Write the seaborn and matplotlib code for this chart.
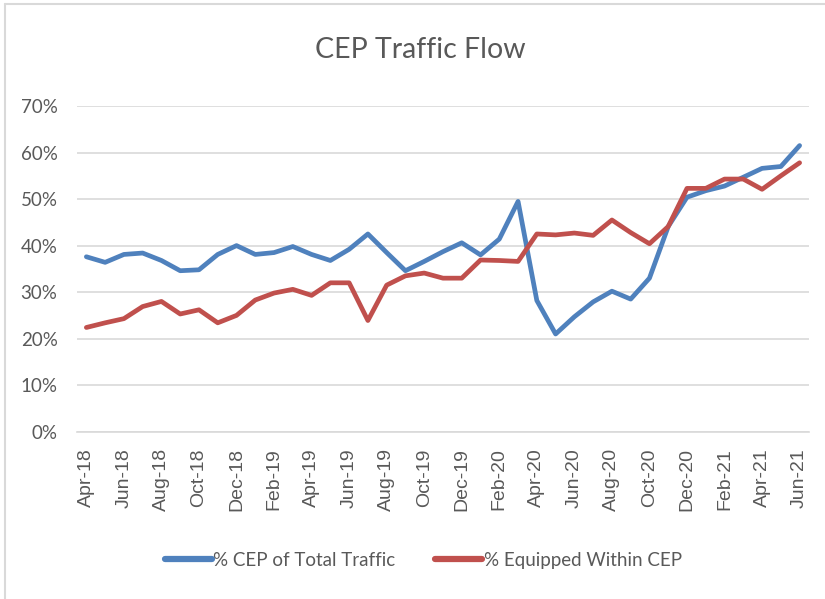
import pandas as pd
import numpy as np
import matplotlib
matplotlib.use("Agg")
import matplotlib.pyplot as plt
import seaborn as sns
from matplotlib.lines import Line2D
from matplotlib.ticker import PercentFormatter

# Datos (Apr-18 .. Jun-21, mensual)
months = pd.date_range("2018-04-01", "2021-06-01", freq="MS").strftime("%b-%y").tolist()

cep_total = [37.6, 36.4, 38.1, 38.4, 36.8, 34.6, 34.8, 38.1, 40.0, 38.1,
             38.5, 39.8, 38.1, 36.8, 39.2, 42.5, 38.5, 34.6, 36.6, 38.7,
             40.6, 38.0, 41.4, 49.5, 28.2, 21.0, 24.7, 27.9, 30.2, 28.5,
             33.0, 44.1, 50.4, 51.8, 52.8, 54.7, 56.6, 57.0, 61.5]

equipped = [22.4, 23.4, 24.3, 26.9, 28.0, 25.3, 26.2, 23.4, 25.0, 28.3,
            29.8, 30.6, 29.3, 32.0, 32.0, 23.9, 31.5, 33.5, 34.1, 33.0,
            33.0, 36.9, 36.8, 36.6, 42.5, 42.3, 42.7, 42.2, 45.5, 42.8,
            40.4, 44.1, 52.3, 52.3, 54.3, 54.3, 52.1, 55.0, 57.8]

series_names = ["% CEP of Total Traffic", "% Equipped Within CEP"]
colors = ["#4F81BD", "#C0504D"]

df = pd.DataFrame({
    "idx": list(range(len(months))) * 2,
    "value": np.array(cep_total + equipped) / 100,
    "serie": [series_names[0]] * len(months) + [series_names[1]] * len(months),
})

sns.set_style("white")
plt.rcParams["font.family"] = ["Lato", "DejaVu Sans"]
gris = "#595959"
grid_c = "#D9D9D9"

fig = plt.figure(figsize=(8.25, 5.99), dpi=100)
ax = fig.add_axes([0.0933, 0.2793, 0.8873, 0.5437])

sns.lineplot(data=df, x="idx", y="value", hue="serie", palette=colors,
             linewidth=3.4, ax=ax, legend=False)
for l in ax.lines:
    l.set_solid_capstyle("round")
    l.set_solid_joinstyle("round")

ax.set_xlim(-0.5, len(months) - 0.5)
ax.set_ylim(0, 0.70)
ax.set_yticks(np.arange(0, 0.71, 0.1))
ax.yaxis.set_major_formatter(PercentFormatter(1.0, decimals=0))
ax.grid(axis="y", color=grid_c, linewidth=1.2)
ax.set_axisbelow(True)

# etiquetas cada dos meses, marcas entre categorías
ax.set_xticks(range(0, len(months), 2))
ax.set_xticklabels(months[::2], rotation=90, fontsize=14,
                   family="Liberation Sans", color=gris)
ax.set_xticks(np.arange(-0.5, len(months) - 1, 2), minor=True)
ax.tick_params(axis="x", which="major", length=0, pad=12)
ax.tick_params(axis="x", which="minor", length=6, color=grid_c, width=1.2)
ax.tick_params(axis="y", length=0, pad=14, labelsize=13.5, labelcolor=gris)

for s in ["top", "right", "left"]:
    ax.spines[s].set_visible(False)
ax.spines["bottom"].set_color(grid_c)
ax.spines["bottom"].set_linewidth(1.2)
ax.set_xlabel("")
ax.set_ylabel("")

fig.text(0.509, 0.917, "CEP Traffic Flow", ha="center", va="center",
         fontsize=20.5, color=gris)

handles = [Line2D([], [], color=c, linewidth=4.5, solid_capstyle="round") for c in colors]
fig.legend(handles, series_names, loc="center", bbox_to_anchor=(0.513, 0.065),
           ncol=2, frameon=False, fontsize=13.5, handlelength=2.5,
           handletextpad=0.1, columnspacing=2.1, labelcolor=gris)

# marco del gráfico (arriba e izquierda)
fig.add_artist(Line2D([0.006, 1.0], [0.993, 0.993], color=grid_c, linewidth=1.5,
                      transform=fig.transFigure))
fig.add_artist(Line2D([0.006, 0.006], [0.0, 0.993], color=grid_c, linewidth=1.5,
                      transform=fig.transFigure))

plt.savefig("out.png", dpi=100)
